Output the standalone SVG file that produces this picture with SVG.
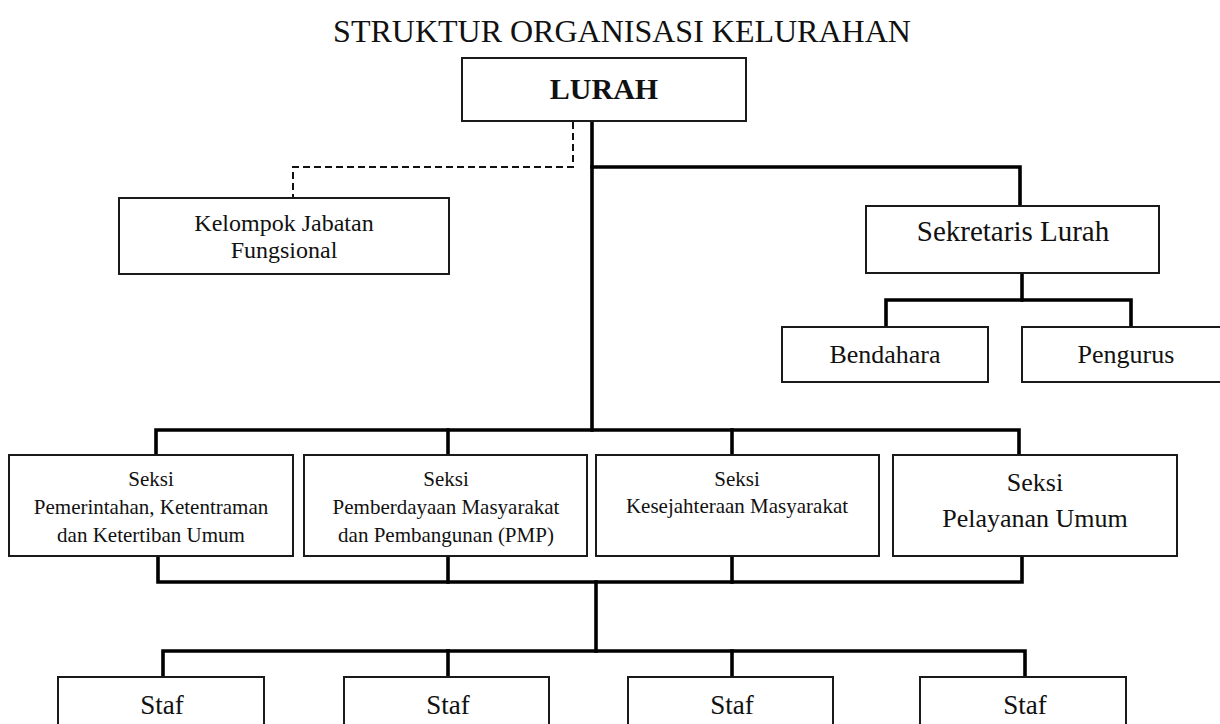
<svg xmlns="http://www.w3.org/2000/svg" width="1220" height="724" viewBox="0 0 1220 724" font-family="'Liberation Serif', 'Times New Roman', serif">
<style>
.box{fill:#fff;stroke:#1a1a1a;stroke-width:2}
.ln{fill:none;stroke:#000;stroke-width:3.6;stroke-linejoin:miter;stroke-linecap:square}
.dash{fill:none;stroke:#111;stroke-width:2;stroke-dasharray:7,4}
text{font-family:'Liberation Serif','Times New Roman',serif;fill:#111;text-anchor:middle}
.s21{font-size:21px}
.s24{font-size:24px}
.s26{font-size:26px}
.s27{font-size:27px}
.s29{font-size:29px}
</style>
<rect width="1220" height="724" fill="#fff"/>
<text x="622" y="42" style="font-size:32px">STRUKTUR ORGANISASI KELURAHAN</text>
<g id="connectors">
<path class="dash" d="M573,122 V167 H293 V197"/>
<path class="ln" d="M592,122 V430"/>
<path class="ln" d="M592,167 H1020 V205"/>
<path class="ln" d="M1022,274 V300"/>
<path class="ln" d="M886,326 V300 H1131 V326"/>
<path class="ln" d="M156,454 V430 H1019 V454"/>
<path class="ln" d="M448,430 V454"/>
<path class="ln" d="M732,430 V454"/>
<path class="ln" d="M158,557 V582 H1022 V557"/>
<path class="ln" d="M448,557 V582"/>
<path class="ln" d="M732,557 V582"/>
<path class="ln" d="M596,582 V651"/>
<path class="ln" d="M163,676 V651 H1025 V676"/>
<path class="ln" d="M448,651 V676"/>
<path class="ln" d="M732,651 V676"/>
</g>
<g id="lurah">
<rect class="box" x="462" y="58" width="284" height="63"/>
<text x="604" y="99" style="font-size:30px;font-weight:bold">LURAH</text>
</g>
<g id="kelompok">
<rect class="box" x="119" y="198" width="330" height="76"/>
<text class="s24" x="284" y="231">Kelompok Jabatan</text>
<text class="s24" x="284" y="258">Fungsional</text>
</g>
<g id="sekretaris">
<rect class="box" x="866" y="206" width="293" height="67"/>
<text class="s29" x="1013" y="241">Sekretaris Lurah</text>
</g>
<g id="bendahara">
<rect class="box" x="782" y="327" width="206" height="55"/>
<text class="s26" x="885" y="363">Bendahara</text>
</g>
<g id="pengurus">
<rect class="box" x="1022" y="327" width="210" height="55"/>
<text class="s26" x="1126" y="363">Pengurus</text>
</g>
<g id="seksi1">
<rect class="box" x="9" y="455" width="284" height="101"/>
<text class="s21" x="151" y="486">Seksi</text>
<text class="s21" x="151" y="514">Pemerintahan, Ketentraman</text>
<text class="s21" x="151" y="542">dan Ketertiban Umum</text>
</g>
<g id="seksi2">
<rect class="box" x="304" y="455" width="283" height="101"/>
<text class="s21" x="446" y="486">Seksi</text>
<text class="s21" x="446" y="514">Pemberdayaan Masyarakat</text>
<text class="s21" x="446" y="542">dan Pembangunan (PMP)</text>
</g>
<g id="seksi3">
<rect class="box" x="596" y="455" width="283" height="101"/>
<text class="s21" x="737" y="486">Seksi</text>
<text class="s21" x="737" y="513">Kesejahteraan Masyarakat</text>
</g>
<g id="seksi4">
<rect class="box" x="893" y="455" width="284" height="101"/>
<text class="s26" x="1035" y="491">Seksi</text>
<text class="s26" x="1035" y="527">Pelayanan Umum</text>
</g>
<g id="staf1">
<rect class="box" x="58" y="677" width="206" height="70"/>
<text class="s27" x="162" y="714">Staf</text>
</g>
<g id="staf2">
<rect class="box" x="344" y="677" width="205" height="70"/>
<text class="s27" x="448" y="714">Staf</text>
</g>
<g id="staf3">
<rect class="box" x="628" y="677" width="205" height="70"/>
<text class="s27" x="732" y="714">Staf</text>
</g>
<g id="staf4">
<rect class="box" x="920" y="677" width="206" height="70"/>
<text class="s27" x="1025" y="714">Staf</text>
</g>
</svg>
